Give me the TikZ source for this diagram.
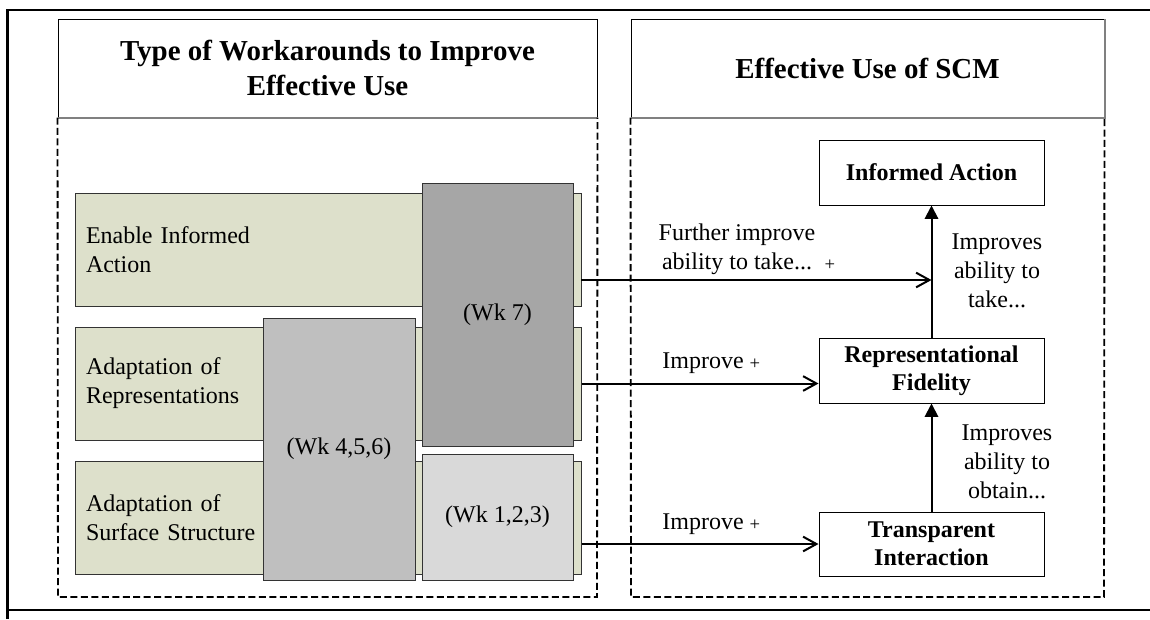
\documentclass[tikz,border=0pt]{standalone}
\usepackage{fontspec}
\setmainfont{Liberation Serif}
\usetikzlibrary{arrows.meta}
\definecolor{greenfill}{HTML}{DDE0CB}
\definecolor{wkdark}{HTML}{A6A6A6}
\definecolor{wkmid}{HTML}{BFBFBF}
\definecolor{wklight}{HTML}{D9D9D9}
\definecolor{edgegray}{HTML}{808080}
\definecolor{boxline}{HTML}{333333}
\begin{document}
\begin{tikzpicture}[x=0.75pt,y=-0.75pt,
  body/.style={font=\fontsize{18}{21.75}\selectfont},
  header/.style={draw=black, line width=0.75pt, font=\fontsize{21.7}{26}\selectfont\bfseries, align=center, inner sep=0pt},
  catbox/.style={draw=boxline, line width=0.75pt, fill=greenfill, minimum height=84.75pt, text width=363pt, align=left, inner xsep=8.25pt, inner ysep=0pt, body},
  wkbox/.style={draw=boxline, line width=0.75pt, inner sep=0pt, body, align=center},
  effbox/.style={draw=black, line width=0.75pt, minimum width=168.75pt, minimum height=48.75pt, inner sep=0pt, font=\fontsize{18}{21}\selectfont\bfseries, align=center},
  lbl/.style={inner sep=0pt, body, align=center},
  plus/.style={inner sep=0pt, font=\fontsize{14}{16}\selectfont},
  openarrow/.style={line width=1.5pt, -{Straight Barb[length=10pt,width=11pt,line width=1.5pt]}},
  fillarrow/.style={line width=1.5pt, -{Triangle[length=10pt,width=10pt]}},
  frameline/.style={line width=2.2pt},
  container/.style={line width=1.4pt, dash pattern=on 5.25pt off 2.6pt},
]
\useasboundingbox (0,0) rectangle (1150,619);
% outer frame
\draw[frameline] (7.5,619) -- (7.5,10) -- (1150,10);
\draw[frameline] (7.5,610) -- (1150,610);

% headers
\node[header, minimum width=404.25pt, minimum height=73.5pt] (hl) at (327.5,68) {Type of Workarounds to Improve\\Effective Use};
\node[header, minimum width=354.75pt, minimum height=73.5pt] (hr) at (867.5,68) {Effective Use of SCM};
\draw[edgegray, line width=1.5pt] (hl.south west) -- (hl.south east);
\draw[edgegray, line width=1.5pt] (hr.south west) -- (hr.south east) -- (hr.north east);

% dashed containers
\draw[container] (hl.south west) -- (58,597) -- (597,597) -- (hl.south east);
\draw[container] (hr.south west) -- (631,597) -- (1104,597) -- (hr.south east);

% workaround categories
\node[catbox] (g1) at (328,249.5) {Enable Informed\\Action};
\node[catbox] (g2) at (328,383.5) {Adaptation of\\Representations};
\node[catbox] (g3) at (328,517.5) {Adaptation of\\Surface Structure};

% workaround groups
\node[wkbox, fill=wkdark, minimum width=113.25pt, minimum height=197.25pt] (wk7) at (497.5,314.5) {(Wk 7)};
\node[wkbox, fill=wkmid, minimum width=114pt, minimum height=196.5pt] (wk456) at (339,449) {(Wk 4,5,6)};
\node[wkbox, fill=wklight, minimum width=113.25pt, minimum height=94.5pt] (wk123) at (497.5,517) {(Wk 1,2,3)};

% effective use nodes
\node[effbox] (ia) at (931.5,172.5) {Informed Action};
\node[effbox] (rf) at (931.5,370.5) {Representational\\Fidelity};
\node[effbox, minimum height=48pt] (ti) at (931.5,544) {Transparent\\Interaction};

% connectors
\coordinate (a1) at (581,280);
\draw[openarrow] (a1) -- (a1 -| ia.south);
\draw[openarrow] (g2.east) -- (g2.east -| rf.west);
\draw[openarrow] (ti.west -| g3.east) -- (ti.west);
\draw[fillarrow] (rf.north) -- (ia.south);
\draw[fillarrow] (ti.north) -- (rf.south);

% labels
\node[lbl] (l1) at (737,249) {Further improve\\ability to take...};
\node[plus] (p1) at (830,265) {+};
\node[lbl, anchor=base] (l2) at (703,368) {Improve};
\node[plus] (p2) at (755,364) {+};
\node[lbl, anchor=base] (l3) at (703,529) {Improve};
\node[plus] (p3) at (755,525) {+};
\node[lbl] (l4) at (997,271) {Improves\\ability to\\take...};
\node[lbl] (l5) at (1007,462) {Improves\\ability to\\obtain...};
\end{tikzpicture}
\end{document}
